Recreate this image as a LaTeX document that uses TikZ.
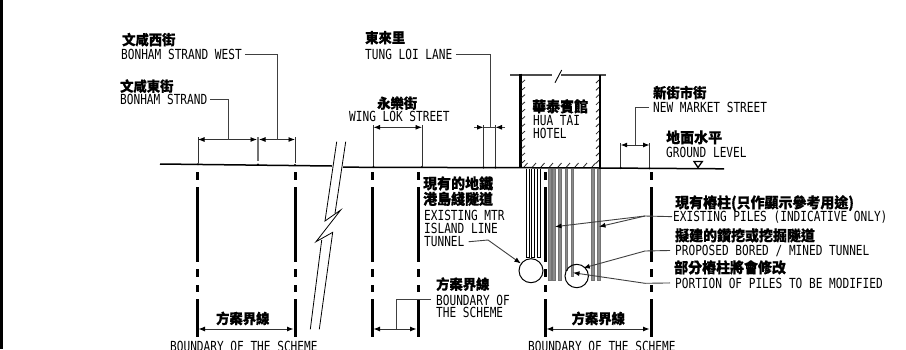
\documentclass[tikz,border=0pt]{standalone}
\usepackage{fontspec}
\usetikzlibrary{arrows.meta}
\newfontfamily\latf[FakeStretch=0.8]{DejaVu Sans Mono}
\newfontfamily\cjkf[FakeStretch=0.95,FakeBold=0.6]{Noto Sans CJK TC}
\tikzset{
  en/.style={anchor=base west,inner sep=0pt,font=\latf\fontsize{13.9}{13.9}\selectfont},
  zh/.style={anchor=base west,inner sep=0pt,font=\cjkf\bfseries\fontsize{14}{14}\selectfont},
  zhb/.style={anchor=base west,inner sep=0pt,font=\cjkf\bfseries\fontsize{14.7}{14.7}\selectfont},
  ext/.style={line width=.9pt,black!80},
  dimen/.style={line width=.9pt,black!80,{Latex[length=6.5pt,width=5pt,black]}-{Latex[length=6.5pt,width=5pt,black]}},
  lead/.style={line width=.9pt,black!75},
  leadarrow/.style={lead,-{Latex[length=6.5pt,width=5pt,black]}},
  bound/.style={line width=3pt,black},
  ground/.style={line width=1.5pt,black},
  wall/.style={line width=2.6pt,black},
  hatchline/.style={line width=.8pt,black!85},
  pilethin/.style={line width=.8pt,black,fill=white},
  pilegrey/.style={line width=.8pt,black!55,fill=black!45},
  tunnel/.style={circle,draw=black,line width=1pt,inner sep=0pt,fill=none},
  zig/.style={line width=.8pt,black,line join=miter}
}
\begin{document}
\begin{tikzpicture}[x=1pt,y=-1pt]
\clip (0,0) rectangle (906,349);
\fill[white] (0,0) rectangle (906,349);
\fill[black] (0,0) rectangle (2.6,349);
% ground
\draw[ground] (160,164) -- (332,166);
\draw[ground] (343,167.2) -- (520,167.7) -- (600,168) -- (724,168.8);
% boundary bars
\foreach \x in {197,295,372,418,545,651}{
  \foreach \a/\b in {172/180,187/262,269/277,285/291.5,299/337}{
    \draw[bound] (\x,\a) -- (\x,\b);
  }
}
% break symbol
\draw[zig] (336.7,141.7) -- (325,221) -- (340.7,210) -- (316,241.7) -- (332.7,232.3) -- (319.3,329.3);
\draw[zig] (345.7,141.7) -- (335,213.5);
\draw[zig] (321.7,240) -- (310.3,329.3);
% hotel
\draw[line width=1.1pt,black!70] (510,75) -- (606,75);
\draw[wall] (520.5,73.5) -- (520.5,168);
\draw[wall] (600,75) -- (600,168);
\fill[white] (552,72.5) rectangle (561,77.5);
\draw[line width=.9pt,black] (555,82.7) -- (561.7,70);
\foreach \y in {80,87.3,...,162}{
  \draw[hatchline] (521.5,\y+3) -- (525,\y);
  \draw[hatchline] (596,\y+3) -- (599,\y);
}
\foreach \x in {524,532.5,...,596}{
  \draw[hatchline] (\x,167) -- (\x+3.5,163);
}
% piles
\foreach \a/\b/\e in {526.2/529.2/257.5,531/534/257.5,537.5/540.2/257.5}{
  \draw[pilethin] (\a,168.5) -- (\a,\e) -- (\b,\e) -- (\b,168.5);
}
\foreach \a/\b/\e in {548.5/551/280,552.8/555.3/280,558.7/561.7/280,565/567.7/270,571/573.2/276,591.7/594.2/280,597.7/600.2/280}{
  \draw[pilegrey] (\a,168.5) -- (\a,\e) -- (\b,\e) -- (\b,168.5);
}
\node[tunnel,minimum size=24pt] (mtr) at (531,270.7) {};
\node[tunnel,minimum size=23.4pt] (prop) at (576.7,276) {};
% street labels
\node[zh] (bswz) at (122,45) {文咸西街};
\node[en] (bsw) at (121,59.5) {BONHAM STRAND WEST};
\node[zh] (bsz) at (120,91.5) {文咸東街};
\node[en] (bs) at (120,104.5) {BONHAM STRAND};
\node[zh] (tlz) at (365,43) {東來里};
\node[en] (tl) at (365,59.3) {TUNG LOI LANE};
\node[zh] (wlz) at (377,108.5) {永樂街};
\node[en] (wl) at (349,121.3) {WING LOK STREET};
\node[zhb] (htz) at (532,112) {華泰賓館};
\node[en] (ht1) at (533,125.7) {HUA TAI};
\node[en] (ht2) at (533,138.7) {HOTEL};
\node[zh] (nmz) at (653,98) {新街市街};
\node[en] (nm) at (653,112.3) {NEW MARKET STREET};
\node[zhb] (glz) at (666,143) {地面水平};
\node[en] (gl) at (666,157.3) {GROUND LEVEL};
\node[zhb] (mz1) at (423,189) {現有的地鐵};
\node[zhb] (mz2) at (423,204.5) {港島綫隧道};
\node[en] (m1) at (424,220) {EXISTING MTR};
\node[en] (m2) at (424,233.3) {ISLAND LINE};
\node[en] (m3) at (424,246.7) {TUNNEL};
\node[zh] (bz1) at (436,289.5) {方案界線};
\node[en] (be1) at (436,305) {BOUNDARY OF};
\node[en] (be2) at (436,317.3) {THE SCHEME};
\node[zh] (bz0) at (216,323.8) {方案界線};
\node[en] (be0) at (170,351) {BOUNDARY OF THE SCHEME};
\node[zh] (bz3) at (571.5,323.8) {方案界線};
\node[en] (be3) at (528,351) {BOUNDARY OF THE SCHEME};
\node[zhb] (epz) at (675,208) {現有樁柱(只作顯示參考用途)};
\node[en] (ep) at (673,221) {EXISTING PILES (INDICATIVE ONLY)};
\node[zhb] (ppz) at (675,241) {擬建的鑽挖或挖掘隧道};
\node[en] (pp) at (675,255) {PROPOSED BORED / MINED TUNNEL};
\node[zhb] (pmz) at (674,273) {部分樁柱將會修改};
\node[en] (pm) at (675,288) {PORTION OF PILES TO BE MODIFIED};
% dimension anchors
\coordinate (a1) at (198,139.5); \coordinate (a2) at (257,139.5);
\coordinate (a3) at (259,139.5); \coordinate (a4) at (295,139.5);
\coordinate (d1) at (228,139.5); \coordinate (d2) at (277.5,139.5);
\coordinate (b1) at (373.5,127.3); \coordinate (b2) at (422,127.3);
\coordinate (c1) at (483.5,127.3); \coordinate (c2) at (495.5,127.3);
\coordinate (c0) at (474,127.3); \coordinate (c3) at (505,127.3);
\coordinate (d3) at (490,127.3);
\coordinate (e1) at (620.7,145); \coordinate (e2) at (649.5,145);
\coordinate (d4) at (635.3,145);
\coordinate (f1) at (198.5,329); \coordinate (f2) at (293.5,329);
\coordinate (g1) at (373.5,329); \coordinate (g2) at (416.5,329);
\coordinate (d5) at (396,329);
\coordinate (h1) at (546.5,329); \coordinate (h2) at (649.5,329);
\coordinate (j1) at (555,226.7); \coordinate (j2) at (599,226.7);
\coordinate (jm) at (645,216); \coordinate (k1) at (583.3,268);
\coordinate (l1) at (573,272.7); \coordinate (km) at (645,251);
\coordinate (lm) at (645,283.3); \coordinate (mm) at (488,240);
% extension lines
\foreach \x/\a/\b in {198/137/162.5,295/137/163,373.5/125/165.5,422/125/165.5,483.5/125/165.5,495.5/125/165.5,620.7/143/167,649.5/143/167}{
  \draw[ext] (\x,\a) -- (\x,\b);
}
\draw[line width=2.6pt,black!55] (258,137) -- (258,161);
\foreach \x/\y in {198/164.2,258/164.6,295/165,373.5/167,422/167,483.5/167.4,495.5/167.4,620.7/168,649.5/168.2}{
  \fill[black] (\x,\y) circle (1.2pt);
}
% dimensions
\draw[dimen] (a1) -- (a2);
\draw[dimen] (a3) -- (a4);
\draw[dimen] (b1) -- (b2);
\draw[lead] (c1) -- (c2);
\draw[leadarrow] (c0) -- (c1);
\draw[leadarrow] (c3) -- (c2);
\draw[dimen] (e1) -- (e2);
\draw[dimen] (f1) -- (f2);
\draw[dimen] (g1) -- (g2);
\draw[dimen] (h1) -- (h2);
% leaders
\draw[lead] ([xshift=3pt]bsw.east) -| (d2);
\draw[lead] ([xshift=3pt]bs.east) -| (d1);
\draw[lead] ([xshift=4pt]tl.east) -| (d3);
\draw[lead] ([xshift=-4pt]nm.west) -| (d4);
\draw[lead] ([xshift=-5pt]be1.west) -| (d5);
\draw[lead] ([xshift=-1pt]ep.west) -- (jm);
\draw[leadarrow] (jm) -- (j1);
\draw[leadarrow] (jm) -- (j2);
\draw[lead] ([xshift=-5pt]pp.west) -- (km);
\draw[leadarrow] (km) -- (k1);
\draw[lead] ([xshift=-5pt]pm.west) -- (lm);
\draw[leadarrow] (lm) -- (l1);
\draw[lead] ([xshift=4pt]m3.east) -- (mm);
\draw[leadarrow] (mm) -- (mtr);
% ground level symbol
\draw[line width=1.3pt,black,line join=miter] (702.3,161.5) -- (698,167.5) -- (694,161.5) -- cycle;
\end{tikzpicture}
\end{document}
